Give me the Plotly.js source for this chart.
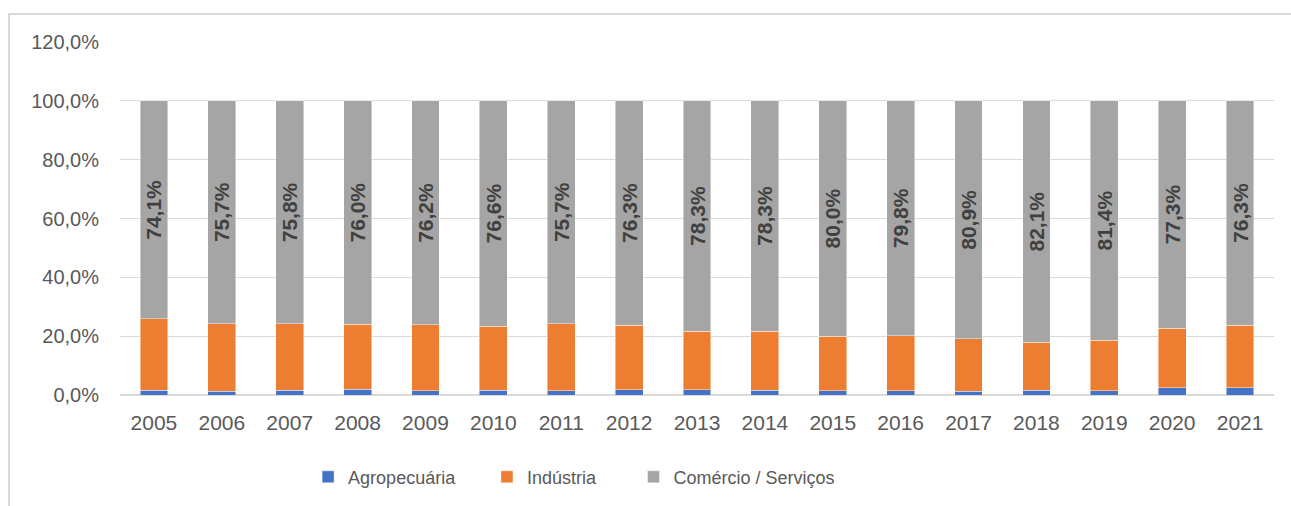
<!DOCTYPE html>
<html>
<head>
<meta charset="utf-8">
<script src="https://cdn.plot.ly/plotly-3.0.1.min.js"></script>
<style>
  html, body { margin: 0; padding: 0; background: #fff; }
  #wrap { position: relative; width: 1291px; height: 506px; overflow: hidden; }
  #chart { position: absolute; left: 0; top: 0; width: 1291px; height: 506px; }
  #frame { position: absolute; left: 8px; top: 13px; width: 1300px; height: 520px;
           border-left: 2px solid #d9d9d9; border-top: 2px solid #d9d9d9; pointer-events: none; }
</style>
</head>
<body>
<div id="wrap">
  <div id="chart"></div>
  <div id="frame"></div>
</div>
<script>
const years = ['2005','2006','2007','2008','2009','2010','2011','2012','2013','2014','2015','2016','2017','2018','2019','2020','2021'];
const agropecuaria = [1.7, 1.3, 1.7, 1.9, 1.4, 1.6, 1.4, 1.8, 1.8, 1.7, 1.4, 1.4, 1.2, 1.6, 1.4, 2.4, 2.4];
const industria = [24.2, 23.0, 22.5, 22.1, 22.4, 21.8, 22.9, 21.9, 19.9, 20.0, 18.6, 18.8, 17.9, 16.3, 17.2, 20.3, 21.3];
const servicos = [74.1, 75.7, 75.8, 76.0, 76.2, 76.6, 75.7, 76.3, 78.3, 78.3, 80.0, 79.8, 80.9, 82.1, 81.4, 77.3, 76.3];
const servicosLabels = ['74,1%','75,7%','75,8%','76,0%','76,2%','76,6%','75,7%','76,3%','78,3%','78,3%','80,0%','79,8%','80,9%','82,1%','81,4%','77,3%','76,3%'];
const yTickVals = [0, 20, 40, 60, 80, 100, 120];
const yTickText = ['0,0%','20,0%','40,0%','60,0%','80,0%','100,0%','120,0%'];

const FONT = '"Liberation Sans", Arial, sans-serif';
const edge = { color: 'rgba(255,255,255,0.55)', width: 0.8 };
const traces = [
  { type: 'bar', name: 'Agropecuária', x: years, y: agropecuaria, legend: 'legend',
    marker: { color: '#4472C4', line: edge }, hoverinfo: 'skip' },
  { type: 'bar', name: 'Indústria', x: years, y: industria, legend: 'legend2',
    marker: { color: '#ED7D31', line: edge }, hoverinfo: 'skip' },
  { type: 'bar', name: 'Comércio / Serviços', x: years, y: servicos, legend: 'legend3',
    marker: { color: '#A5A5A5', line: edge }, hoverinfo: 'skip',
    text: servicosLabels, textposition: 'inside', insidetextanchor: 'middle',
    textangle: -90, constraintext: 'none',
    textfont: { family: FONT, size: 21, color: '#404040', weight: 'bold' } }
];

function legendAt(xp) {
  return {
    orientation: 'h', x: xp, xanchor: 'left',
    yref: 'container', y: 0.057, yanchor: 'middle',
    font: { family: FONT, size: 18, color: '#595959' },
    itemwidth: 30, bgcolor: 'rgba(0,0,0,0)'
  };
}

const layout = {
  width: 1291, height: 506,
  margin: { l: 120, r: 17, t: 42, b: 111, autoexpand: false },
  barmode: 'stack',
  bargap: 0.59,
  paper_bgcolor: '#ffffff',
  plot_bgcolor: '#ffffff',
  showlegend: true,
  legend: legendAt(0.163),
  legend2: legendAt(0.318),
  legend3: legendAt(0.445),
  xaxis: {
    type: 'category',
    tickfont: { family: FONT, size: 21, color: '#595959' },
    showgrid: false, zeroline: false, showline: false, ticks: '',
    ticklabelstandoff: 13
  },
  yaxis: {
    range: [0, 120],
    tickvals: yTickVals, ticktext: yTickText,
    tickfont: { family: FONT, size: 20, color: '#595959' },
    showgrid: true, gridcolor: '#d9d9d9', gridwidth: 1.3,
    zeroline: true, zerolinecolor: '#d9d9d9', zerolinewidth: 1.3,
    showline: false, ticks: '', ticklabelstandoff: 20
  }
};

Plotly.newPlot('chart', traces, layout, { staticPlot: true, displayModeBar: false });
</script>
</body>
</html>
